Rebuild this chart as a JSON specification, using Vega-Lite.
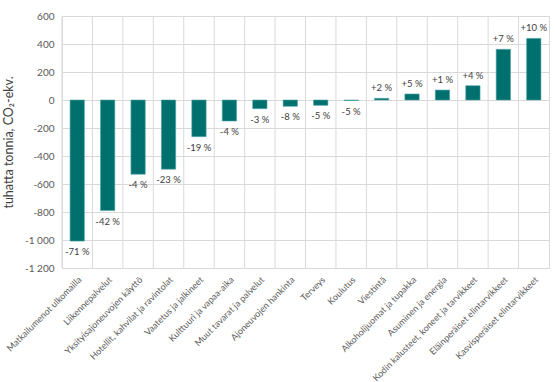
{
  "$schema": "https://vega.github.io/schema/vega-lite/v6.json",
  "width": 487,
  "height": 252,
  "autosize": "none",
  "padding": {"left": 62, "top": 16, "right": 7, "bottom": 114},
  "config": {
    "font": "Lato",
    "view": {"stroke": "#d9d9d9", "strokeWidth": 1},
    "locale": {"number": {"decimal": ",", "thousands": " ", "grouping": [3], "currency": ["", " €"], "minus": "-"}}
  },
  "data": {
    "values": [
      {"cat": "Matkailumenot ulkomailla", "value": -1008, "label": "-71 %"},
      {"cat": "Liikennepalvelut", "value": -790, "label": "-42 %"},
      {"cat": "Yksityisajoneuvojen käyttö", "value": -530, "label": "-4 %"},
      {"cat": "Hotellit, kahvilat ja ravintolat", "value": -494, "label": "-23 %"},
      {"cat": "Vaatetus ja jalkineet", "value": -262, "label": "-19 %"},
      {"cat": "Kulttuuri ja vapaa-aika", "value": -150, "label": "-4 %"},
      {"cat": "Muut tavarat ja palvelut", "value": -62, "label": "-3 %"},
      {"cat": "Ajoneuvojen hankinta", "value": -45, "label": "-8 %"},
      {"cat": "Terveys", "value": -38, "label": "-5 %"},
      {"cat": "Koulutus", "value": -4, "label": "-5 %"},
      {"cat": "Viestintä", "value": 12, "label": "+2 %"},
      {"cat": "Alkoholijuomat ja tupakka", "value": 43, "label": "+5 %"},
      {"cat": "Asuminen ja energia", "value": 71, "label": "+1 %"},
      {"cat": "Kodin kalusteet, koneet ja tarvikkeet", "value": 102, "label": "+4 %"},
      {"cat": "Eläinperäiset elintarvikkeet", "value": 362, "label": "+7 %"},
      {"cat": "Kasvisperäiset elintarvikkeet", "value": 440, "label": "+10 %"}
    ]
  },
  "encoding": {
    "x": {
      "field": "cat",
      "type": "nominal",
      "sort": null,
      "scale": {"paddingInner": 0, "paddingOuter": 0},
      "axis": {
        "title": null,
        "labelAngle": -45,
        "labelFontSize": 9,
        "labelColor": "#595959",
        "labelPadding": 7,
        "ticks": false,
        "domain": false,
        "grid": false,
        "labelLimit": 300
      }
    },
    "y": {
      "field": "value",
      "type": "quantitative",
      "scale": {"domain": [-1200, 600], "nice": false},
      "axis": {
        "title": "tuhatta tonnia, CO₂-ekv.",
        "titleFontSize": 12.5,
        "titleFontWeight": "normal",
        "titleColor": "#404040",
        "titlePadding": 9,
        "values": [-1200, -1000, -800, -600, -400, -200, 0, 200, 400, 600],
        "labelOverlap": false,
        "format": ",d",
        "labelFontSize": 10,
        "labelColor": "#595959",
        "labelPadding": 8,
        "ticks": false,
        "domain": false,
        "grid": true,
        "gridColor": "#d9d9d9"
      }
    }
  },
  "layer": [
    {
      "mark": {"type": "rule", "color": "#d9d9d9", "strokeWidth": 1},
      "encoding": {
        "x": {"field": "cat", "type": "nominal", "sort": null, "bandPosition": 0},
        "y": {"datum": -1200, "type": "quantitative"},
        "y2": {"datum": 600}
      }
    },
    {
      "mark": {"type": "bar", "color": "#00706f", "width": {"band": 0.47}, "stroke": "#4fa3a2", "strokeWidth": 0.6}
    },
    {
      "transform": [{"filter": "datum.value < 0"}],
      "mark": {"type": "text", "fontSize": 9.5, "color": "#404040", "dy": 11},
      "encoding": {
        "text": {"field": "label"}
      }
    },
    {
      "transform": [{"filter": "datum.value >= 0"}],
      "mark": {"type": "text", "fontSize": 9.5, "color": "#404040", "dy": -10},
      "encoding": {
        "text": {"field": "label"}
      }
    }
  ]
}
